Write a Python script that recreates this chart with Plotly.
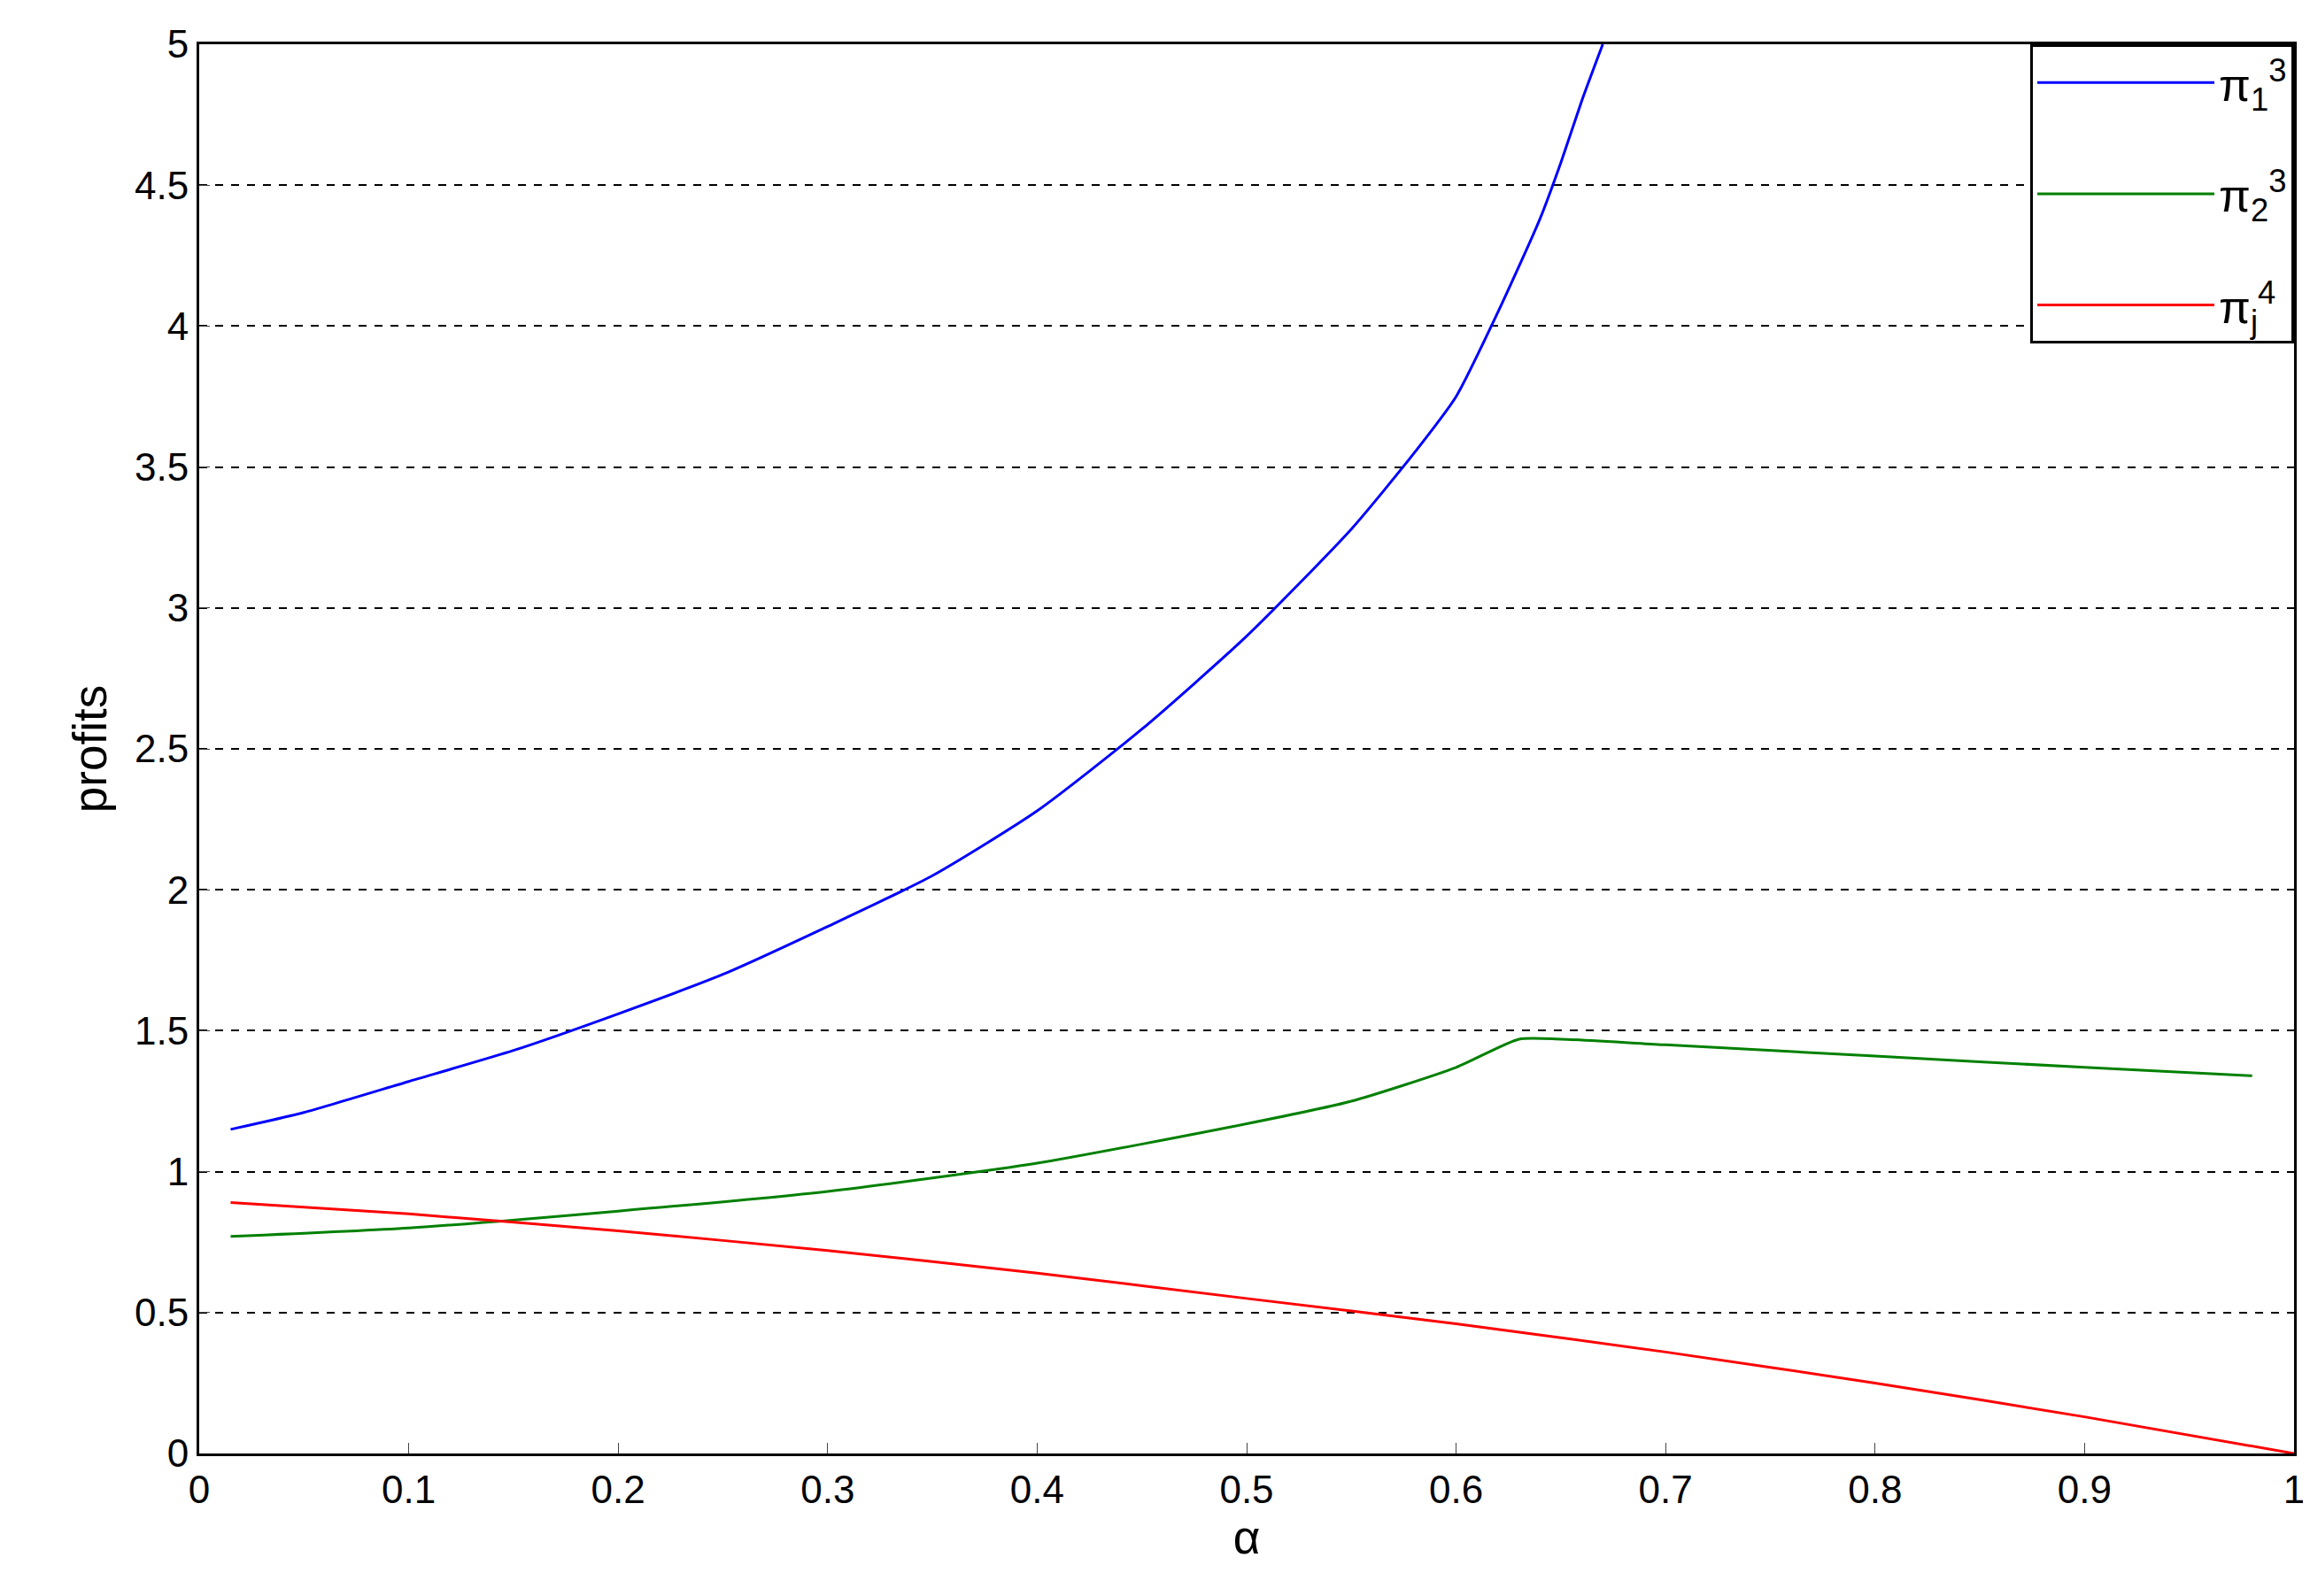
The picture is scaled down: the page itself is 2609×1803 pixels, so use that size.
import plotly.graph_objects as go

x1 = [0.015, 0.05, 0.1, 0.15, 0.2, 0.25, 0.3, 0.35, 0.4, 0.45, 0.5, 0.55, 0.58, 0.6, 0.62, 0.64, 0.65, 0.66, 0.67]
y1 = [1.15, 1.21, 1.32, 1.43, 1.56, 1.70, 1.87, 2.05, 2.28, 2.57, 2.90, 3.28, 3.55, 3.75, 4.05, 4.38, 4.58, 4.80, 5.0]
x2 = [0.015, 0.1, 0.2, 0.3, 0.4, 0.5, 0.55, 0.6, 0.63, 0.65, 0.7, 0.8, 0.9, 0.98]
y2 = [0.77, 0.80, 0.86, 0.93, 1.03, 1.17, 1.25, 1.37, 1.47, 1.47, 1.45, 1.41, 1.37, 1.34]
x3 = [0.015, 0.1, 0.2, 0.3, 0.4, 0.5, 0.6, 0.7, 0.8, 0.9, 1.0]
y3 = [0.89, 0.85, 0.79, 0.72, 0.64, 0.55, 0.46, 0.36, 0.25, 0.13, 0.0]
names = ["π<sub>1</sub><sup>3</sup>", "π<sub>2</sub><sup>3</sup>", "π<sub>j</sub><sup>4</sup>"]
colors = ["#0000ff", "#008000", "#ff0000"]

fig = go.Figure()
for i, (xs, ys, n, c) in enumerate(zip([x1, x2, x3], [y1, y2, y3], names, colors)):
    fig.add_trace(go.Scatter(x=xs, y=ys, mode="lines", name=n, legendgroup=str(i),
                             line=dict(color=c, width=3, shape="spline", smoothing=0.6)))

font = dict(family="Liberation Sans, Arial", size=44, color="black")
fig.update_layout(
    width=2609, height=1803, plot_bgcolor="white", paper_bgcolor="white",
    margin=dict(l=217, r=26, t=42, b=169), font=font, showlegend=True,
    legend=dict(x=1, y=1, xanchor="right", yanchor="top", bordercolor="black", borderwidth=3,
                bgcolor="white", font=dict(size=52), itemwidth=200, tracegroupgap=55),
)
fig.update_xaxes(range=[0, 1], dtick=0.1, showgrid=False, zeroline=False, showline=True,
                 linecolor="black", linewidth=3, mirror=True, ticks="inside", ticklen=12,
                 title=dict(text="α", standoff=10), tickformat="~g")
fig.update_yaxes(range=[0, 5], dtick=0.5, showgrid=True, gridcolor="black", griddash="dash",
                 gridwidth=2, zeroline=False, showline=True, linecolor="black", linewidth=3,
                 mirror=True, ticks="inside", ticklen=12, title=dict(text="profits", standoff=15),
                 tickformat="~g")
fig.write_html("out.html")
